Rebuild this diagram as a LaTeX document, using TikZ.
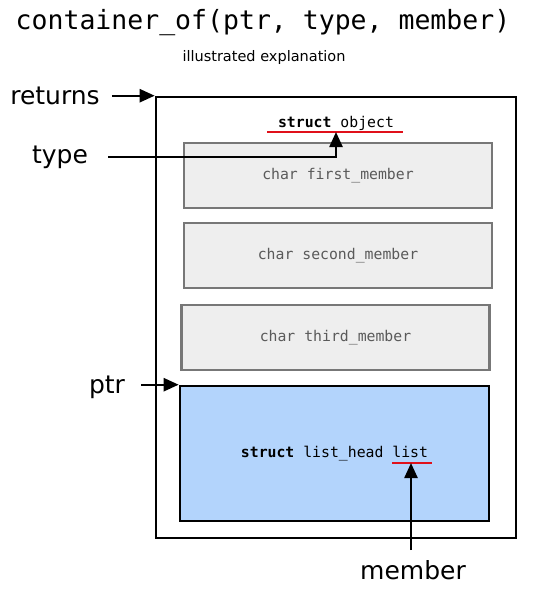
\documentclass[tikz,border=0pt]{standalone}
\usepackage{fontspec}
\setmainfont{DejaVu Sans}
\setmonofont{DejaVu Sans Mono}
\usetikzlibrary{arrows.meta}
\definecolor{boxgray}{HTML}{EEEEEE}
\definecolor{linegray}{HTML}{777777}
\definecolor{textgray}{HTML}{5A5A5A}
\definecolor{listblue}{HTML}{B3D4FC}
\definecolor{ulred}{HTML}{E0101A}

\begin{document}
\begin{tikzpicture}[x=1pt,y=-1pt]
\tikzstyle{every node}+=[inner sep=0pt]
\tikzstyle{label}=[font=\fontsize{25}{30}\selectfont]
\tikzstyle{membox}=[draw=linegray, fill=boxgray, line width=2.2pt, minimum width=308pt, minimum height=65pt, font=\ttfamily\fontsize{14.8}{17}\selectfont, text=textgray]
\tikzstyle{arr}=[black, line width=2.4pt, -{Triangle[length=15pt,width=13pt]}]
\tikzstyle{uline}=[ulred, line width=2.2pt]
\useasboundingbox (0,0) rectangle (543,598);
\node (title) at (263,23) {\ttfamily\fontsize{26.5}{30}\selectfont container\_of(ptr, type, member)};
\node (subtitle) at (264,57) {\fontsize{14.5}{17}\selectfont illustrated explanation};
\node [draw, line width=2.6pt, minimum width=360pt, minimum height=441pt] (object) at (336,317.5) {};
\node [font=\ttfamily\fontsize{14.8}{17}\selectfont] (objname) at (336,123) {\textbf{struct} object};
\node [membox] (first) at (338,175.5) {char first\_member};
\node [membox] (second) at (338,255.5) {char second\_member};
\node [membox] (third) at (335.5,337.5) {char third\_member};
\node [draw, line width=2.6pt, fill=listblue, minimum width=309pt, minimum height=135pt, font=\ttfamily\fontsize{14.8}{17}\selectfont] (list) at (334.5,453.5) {\textbf{struct} list\_head list};
\coordinate (objul) at (336,132);
\coordinate (listul) at (411,463);
\draw [uline] (267,132) -- (403,132);
\draw [uline] (392,463) -- (432,463);
\node [label] (returns) at (55,96) {returns};
\node [label] (type) at (60,157) {type};
\node [label] (ptr) at (107,387) {ptr};
\node [label] (member) at (413,570) {member};
\draw [arr] ([xshift=12pt]returns.east |- object.north west) -- (object.north west);
\draw [arr] ([xshift=20pt]type.east) -| (objul);
\draw [arr] ([xshift=16pt]ptr.east |- list.north west) -- (list.north west);
\draw [arr] (listul |- 0,550) -- (listul);
\end{tikzpicture}
\end{document}
